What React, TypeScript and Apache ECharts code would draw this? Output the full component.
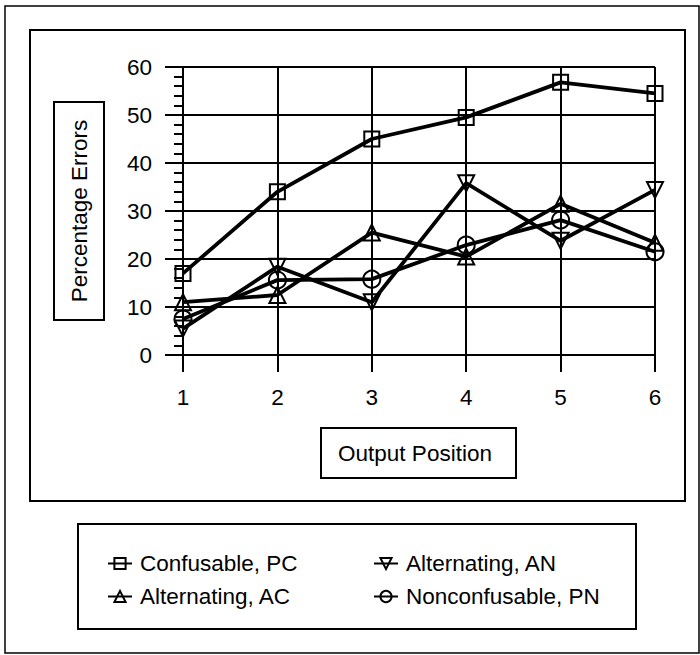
import React, { useEffect, useRef } from "react";
import * as echarts from "echarts";

const positions = [1, 2, 3, 4, 5, 6];
const confusablePC = [17, 34, 45, 49.5, 56.8, 54.5];
const alternatingAC = [11, 12.5, 25.5, 20.5, 31.5, 23.4];
const alternatingAN = [5.5, 18.4, 11, 35.8, 23.8, 34.4];
const nonconfusablePN = [7.5, 15.6, 15.8, 22.9, 28.1, 21.5];

const yTicks = { min: 0, max: 60, interval: 10 };
const FONT = "Liberation Sans, Arial, Helvetica, sans-serif";
const FS = 22.5;

function pts(vals: number[]) {
  return positions.map((x, i) => [x, vals[i]]);
}

export default function App() {
  const ref = useRef<HTMLDivElement>(null);
  useEffect(() => {
    document.body.style.margin = "0";
    const chart = echarts.init(ref.current!, null, { renderer: "svg" });
    const hollow = { color: "rgba(0,0,0,0)", borderColor: "#000", borderWidth: 2 };
    const line = { color: "#000", width: 3.8 };
    const mk = (name: string, vals: number[], symbol: string, size: number, rot = 0) => ({
      name,
      type: "line",
      data: pts(vals),
      symbol,
      symbolSize: size,
      symbolRotate: rot,
      lineStyle: line,
      itemStyle: hollow,
      z: 3,
    });
    const legendCommon = {
      orient: "vertical",
      top: 547,
      itemWidth: 24,
      itemHeight: 14,
      itemGap: 10,
      textStyle: { fontSize: FS, fontFamily: FONT, color: "#000", padding: [0, 0, 0, 3] },
    };
    chart.setOption({
      animation: false,
      backgroundColor: "#fff",
      textStyle: { fontFamily: FONT },
      grid: { left: 183, right: 45, top: 67, bottom: 300, containLabel: false },
      xAxis: {
        type: "value",
        min: 1,
        max: 6,
        interval: 1,
        axisLine: { show: true, lineStyle: { color: "#000", width: 2 } },
        axisTick: { show: true, length: 17, lineStyle: { color: "#000", width: 2 } },
        splitLine: { show: true, lineStyle: { color: "#000", width: 2 } },
        axisLabel: { fontSize: FS, fontFamily: FONT, color: "#000", margin: 31 },
      },
      yAxis: {
        type: "value",
        min: yTicks.min,
        max: yTicks.max,
        interval: yTicks.interval,
        axisLine: { show: true, lineStyle: { color: "#000", width: 2 } },
        axisTick: { show: true, length: 18, lineStyle: { color: "#000", width: 2 } },
        minorTick: { show: true, splitNumber: 5, length: 9, lineStyle: { color: "#000", width: 2 } },
        splitLine: { show: true, lineStyle: { color: "#000", width: 2 } },
        axisLabel: { fontSize: FS, fontFamily: FONT, color: "#000", margin: 31 },
      },
      legend: [
        { ...legendCommon, left: 102, data: ["Confusable, PC", "Alternating, AC"] },
        { ...legendCommon, left: 368, data: ["Alternating, AN", "Nonconfusable, PN"] },
      ],
      graphic: [
        { type: "rect", shape: { x: 5, y: 6, width: 694, height: 647 }, style: { fill: "none", stroke: "#000", lineWidth: 1.5 }, silent: true },
        { type: "rect", shape: { x: 30, y: 30, width: 655, height: 471 }, style: { fill: "none", stroke: "#000", lineWidth: 2 }, silent: true },
        { type: "rect", shape: { x: 78, y: 524, width: 558, height: 105 }, style: { fill: "none", stroke: "#000", lineWidth: 2 }, silent: true },
        { type: "rect", shape: { x: 54, y: 102, width: 50, height: 218 }, style: { fill: "#fff", stroke: "#000", lineWidth: 2 }, silent: true },
        {
          type: "text",
          x: 79,
          y: 211,
          rotation: Math.PI / 2,
          style: { text: "Percentage Errors", fontSize: FS, fontFamily: FONT, fill: "#000", align: "center", verticalAlign: "middle" },
        },
        { type: "rect", shape: { x: 321, y: 428, width: 195, height: 50 }, style: { fill: "#fff", stroke: "#000", lineWidth: 2 }, silent: true },
        {
          type: "text",
          x: 415,
          y: 453,
          style: { text: "Output Position", fontSize: FS, fontFamily: FONT, fill: "#000", align: "center", verticalAlign: "middle" },
        },
      ],
      series: [
        mk("Confusable, PC", confusablePC, "rect", 15),
        mk("Alternating, AC", alternatingAC, "triangle", 16),
        mk("Alternating, AN", alternatingAN, "triangle", 16, 180),
        mk("Nonconfusable, PN", nonconfusablePN, "circle", 17),
      ],
    });
    return () => chart.dispose();
  }, []);
  return <div ref={ref} style={{ width: 700, height: 655 }} />;
}
